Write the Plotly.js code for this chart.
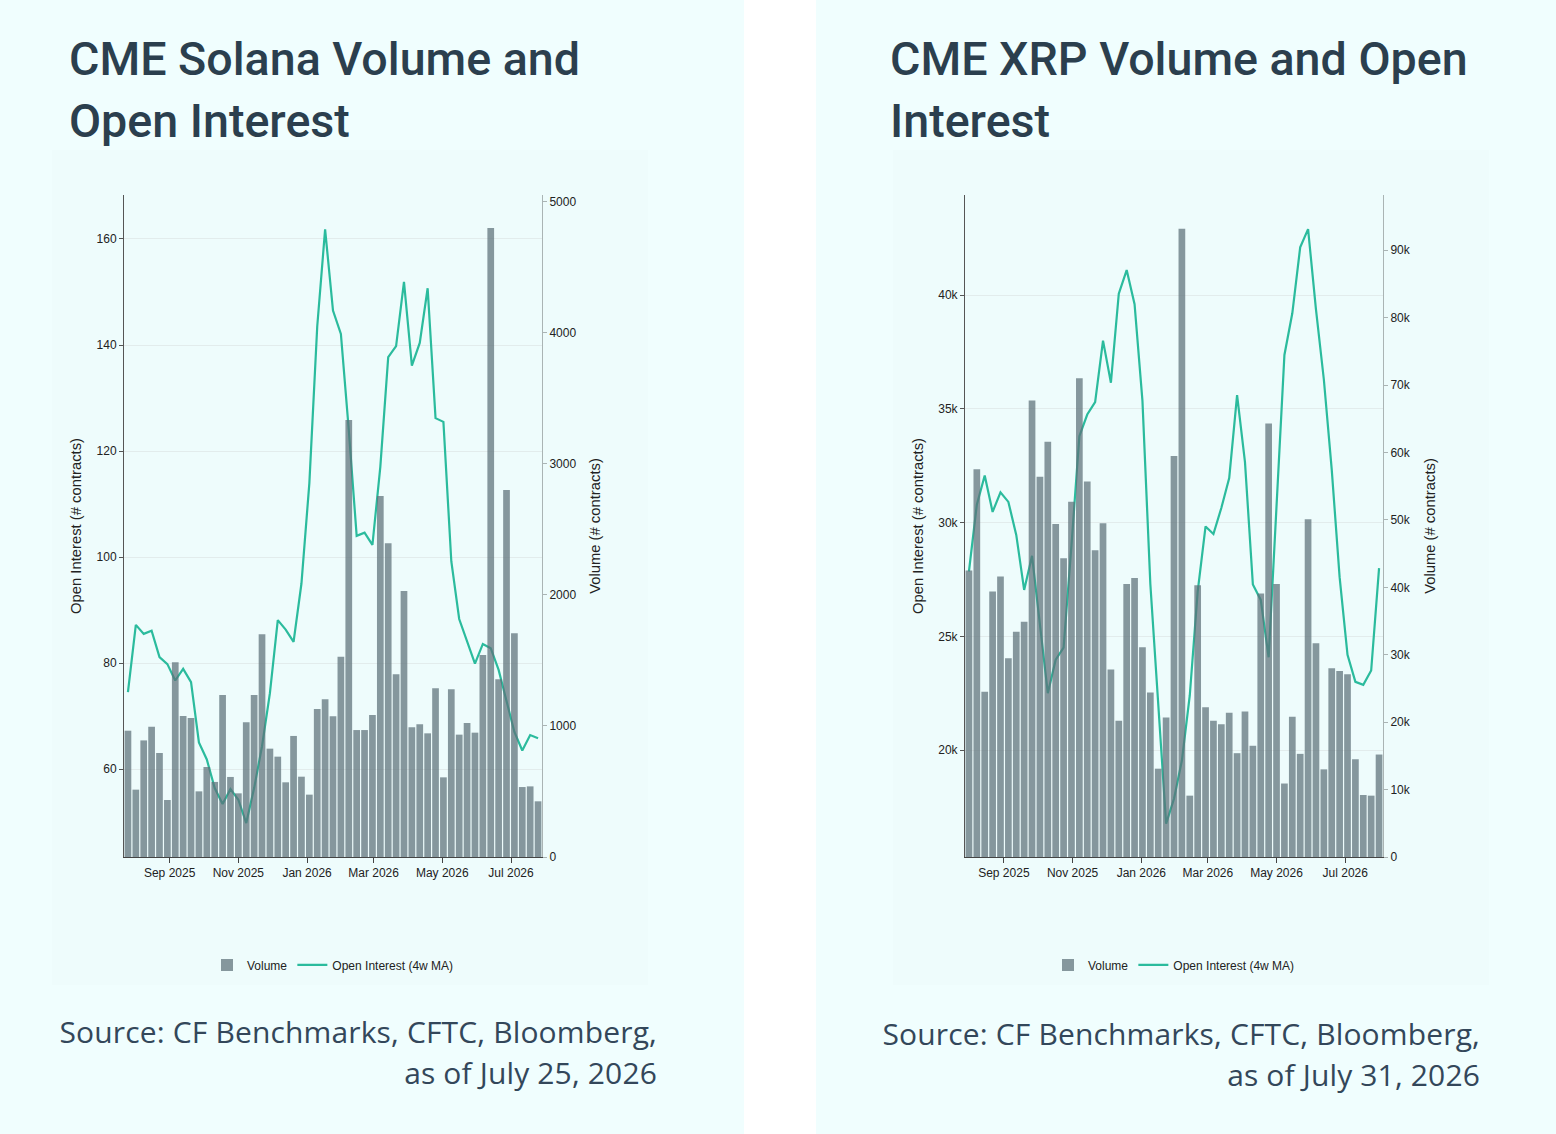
<!DOCTYPE html>
<html>
<head>
<meta charset="utf-8">
<script src="https://cdn.plot.ly/plotly-3.0.1.min.js"></script>
<style>
  html, body { margin: 0; padding: 0; background: #ffffff; }
  body { width: 1556px; height: 1134px; position: relative; overflow: hidden; }
  .panel { position: absolute; top: 0; height: 1134px; background: #f0fefe; }
  .title { position: absolute; font-family: Roboto, sans-serif; font-weight: 500;
           font-size: 46.6px; line-height: 62px; color: #2b3f4e; white-space: nowrap; }
  .source { position: absolute; font-family: "Open Sans", sans-serif; font-weight: 400;
            font-size: 30px; line-height: 41px; letter-spacing: 0.15px; color: #33475a;
            text-align: right; white-space: nowrap; }
  .chart { position: absolute; top: 150px; width: 596px; height: 835px; }
</style>
</head>
<body>
<div class="panel" style="left:0; width:744px;"></div>
<div class="panel" style="left:816px; width:740px;"></div>

<div class="title" style="left:69px; top:28px;">CME Solana Volume and<br>Open Interest</div>
<div class="title" style="left:890px; top:28px;">CME XRP Volume and Open<br>Interest</div>

<div id="solChart" class="chart" style="left:52px;"></div>
<div id="xrpChart" class="chart" style="left:893px;"></div>

<div class="source" style="right:899px; top:1011px;">Source: CF Benchmarks, CFTC, Bloomberg,<br>as of July 25, 2026</div>
<div class="source" style="right:76px; top:1013px;">Source: CF Benchmarks, CFTC, Bloomberg,<br>as of July 31, 2026</div>

<script>
// weekly dates (Solana: Saturdays, XRP: Fridays)
var solDates = ['2025-07-26','2025-08-02','2025-08-09','2025-08-16','2025-08-23','2025-08-30',
  '2025-09-06','2025-09-13','2025-09-20','2025-09-27','2025-10-04','2025-10-11','2025-10-18',
  '2025-10-25','2025-11-01','2025-11-08','2025-11-15','2025-11-22','2025-11-29','2025-12-06',
  '2025-12-13','2025-12-20','2025-12-27','2026-01-03','2026-01-10','2026-01-17','2026-01-24',
  '2026-01-31','2026-02-07','2026-02-14','2026-02-21','2026-02-28','2026-03-07','2026-03-14',
  '2026-03-21','2026-03-28','2026-04-04','2026-04-11','2026-04-18','2026-04-25','2026-05-02',
  '2026-05-09','2026-05-16','2026-05-23','2026-05-30','2026-06-06','2026-06-13','2026-06-20',
  '2026-06-27','2026-07-04','2026-07-11','2026-07-18','2026-07-25'];

var solVolume = [964, 514, 890, 995, 794, 435, 1486, 1076, 1061, 501,
  687, 573, 1237, 611, 486, 1028, 1237, 1700, 827, 766,
  570, 924, 613, 476, 1130, 1204, 1074, 1529, 3336, 969,
  969, 1084, 2756, 2394, 1394, 2031, 990, 1013, 944, 1288,
  608, 1280, 934, 1023, 949, 1542, 4802, 1356, 2802, 1707,
  534, 539, 425];

var solOI = [74.5, 87.2, 85.5, 86.1, 81.1, 79.8, 76.7, 78.9, 76.4, 65.0,
  61.8, 56.4, 53.4, 56.2, 54.2, 49.8, 56.4, 64.3, 74.3, 88.1,
  86.3, 84.0, 95.0, 113.9, 143.5, 161.8, 146.5, 142.1, 124.0, 104.0,
  104.6, 102.3, 117.0, 137.7, 139.8, 151.9, 136.1, 140.4, 150.7, 126.2,
  125.5, 99.2, 88.3, 84.1, 79.9, 83.6, 82.8, 78.7, 73.0, 67.0,
  63.5, 66.4, 65.8];

var xrpDates = ['2025-08-01','2025-08-08','2025-08-15','2025-08-22','2025-08-29','2025-09-05',
  '2025-09-12','2025-09-19','2025-09-26','2025-10-03','2025-10-10','2025-10-17','2025-10-24',
  '2025-10-31','2025-11-07','2025-11-14','2025-11-21','2025-11-28','2025-12-05','2025-12-12',
  '2025-12-19','2025-12-26','2026-01-02','2026-01-09','2026-01-16','2026-01-23','2026-01-30',
  '2026-02-06','2026-02-13','2026-02-20','2026-02-27','2026-03-06','2026-03-13','2026-03-20',
  '2026-03-27','2026-04-03','2026-04-10','2026-04-17','2026-04-24','2026-05-01','2026-05-08',
  '2026-05-15','2026-05-22','2026-05-29','2026-06-05','2026-06-12','2026-06-19','2026-06-26',
  '2026-07-03','2026-07-10','2026-07-17','2026-07-24','2026-07-31'];

var xrpVolume = [42500, 57500, 24500, 39400, 41600, 29500, 33400, 34900, 67700, 56400,
  61600, 49400, 44300, 52700, 71000, 55700, 45500, 49500, 27800, 20200,
  40500, 41400, 31100, 24400, 13100, 20700, 59500, 93200, 9100, 40300,
  22200, 20200, 19700, 21400, 15400, 21600, 16500, 39100, 64300, 40500,
  10900, 20800, 15300, 50100, 31700, 13000, 28000, 27600, 27100, 14500,
  9200, 9100, 15200];

var xrpOI = [27850, 30790, 32070, 30470, 31330, 30910, 29460, 27040, 28540, 25600,
  22500, 23970, 24500, 29000, 33800, 34750, 35300, 38000, 36150, 40060,
  41100, 39600, 35350, 27300, 22000, 16770, 17860, 19540, 22400, 26950,
  29830, 29500, 30640, 31960, 35600, 32660, 27280, 26600, 24080, 30600,
  37370, 39200, 42100, 42900, 39370, 36290, 32330, 27600, 24190, 23000,
  22870, 23500, 28000];

var monthTicks = ['2025-09-01','2025-11-01','2026-01-01','2026-03-01','2026-05-01','2026-07-01'];

var barColor = 'rgba(93,112,121,0.72)';
var lineColor = '#2bbb9d';
var tickFont = {family: 'Liberation Sans, Arial, sans-serif', size: 12, color: '#222'};
var titleFont = {family: 'Liberation Sans, Arial, sans-serif', size: 14.8, color: '#222'};

function makeChart(id, dates, volume, oi, xRange, oiRange, oiTicks, volRange, volDtick, fmt) {
  var data = [
    {x: dates, y: volume, type: 'bar', name: 'Volume', yaxis: 'y2',
     marker: {color: barColor, line: {width: 0}}},
    {x: dates, y: oi, type: 'scatter', mode: 'lines', name: 'Open Interest (4w MA)',
     line: {color: lineColor, width: 2.2}}
  ];
  var layout = {
    width: 596, height: 835,
    margin: {l: 72, r: 106, t: 45, b: 128},
    paper_bgcolor: '#eefcfc', plot_bgcolor: 'rgba(0,0,0,0)',
    bargap: 0.15,
    showlegend: true,
    legend: {orientation: 'h', x: 0.5, xanchor: 'center', xref: 'paper',
             y: 0.024, yanchor: 'middle', yref: 'container',
             font: {family: 'Liberation Sans, Arial, sans-serif', size: 12, color: '#222'},
             bgcolor: 'rgba(0,0,0,0)', itemwidth: 30},
    xaxis: {type: 'date', range: xRange, tickvals: monthTicks, tickformat: '%b %Y',
            showgrid: false, showline: true, linecolor: '#444', linewidth: 1,
            ticks: 'outside', ticklen: 5, tickcolor: '#444', tickfont: tickFont, zeroline: false,
            automargin: false},
    yaxis: {range: oiRange, tickvals: oiTicks, tickformat: fmt, showgrid: true, gridcolor: '#e2ecec',
            showline: true, linecolor: '#555', linewidth: 1, ticks: 'outside', ticklen: 4,
            tickcolor: '#555', tickfont: tickFont, zeroline: false, automargin: false,
            title: {text: 'Open Interest (# contracts)', font: titleFont, standoff: 11}},
    yaxis2: {overlaying: 'y', side: 'right', range: volRange, dtick: volDtick, tick0: 0,
             tickformat: fmt, showgrid: false, showline: true, linecolor: '#aab4b4', linewidth: 1,
             ticks: 'outside', ticklen: 4, tickcolor: '#aab4b4', tickfont: tickFont, zeroline: false,
             automargin: false,
             title: {text: 'Volume (# contracts)', font: titleFont, standoff: 14}}
  };
  Plotly.newPlot(id, data, layout, {displayModeBar: false, staticPlot: true});
}

makeChart('solChart', solDates, solVolume, solOI,
  ['2025-07-22 12:00', '2026-07-28 12:00'], [43.4, 168.3], [60, 80, 100, 120, 140, 160],
  [0, 5053], 1000, '');
makeChart('xrpChart', xrpDates, xrpVolume, xrpOI,
  ['2025-07-28 12:00', '2026-08-03 12:00'], [15300, 44400], [20000, 25000, 30000, 35000, 40000],
  [0, 98200], 10000, '~s');
</script>
</body>
</html>
